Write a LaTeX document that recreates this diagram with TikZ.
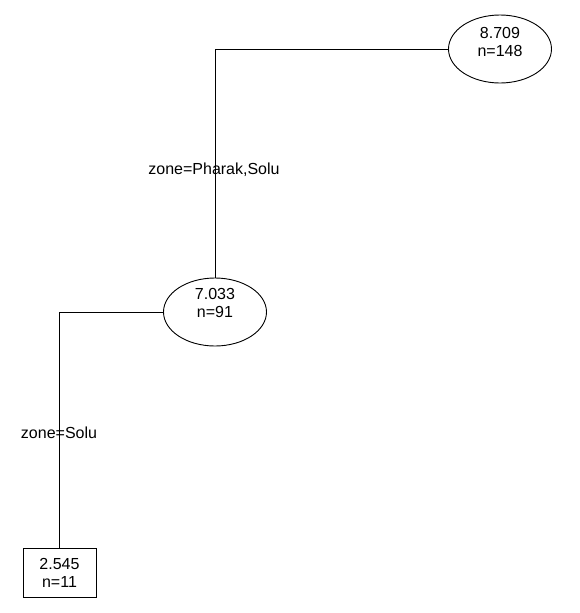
\documentclass[tikz,border=0pt]{standalone}
\usepackage{fontspec}
\setmainfont{Liberation Sans}
\usetikzlibrary{shapes.geometric}
\begin{document}
\begin{tikzpicture}[x=1pt,y=-1pt,line width=0.9pt,
  ell/.style={draw,ellipse,minimum width=103pt,minimum height=68pt,inner sep=0pt},
  leaf/.style={draw,rectangle,minimum width=73pt,minimum height=49pt,inner sep=0pt},
  txt/.style={font=\fontsize{16}{20}\selectfont,align=center},
  lab/.style={font=\fontsize{16}{20}\selectfont,inner sep=0pt}]
\useasboundingbox (0,0) rectangle (579,613);
\node[ell] (root) at (500,49) {};
\node[txt] (roottxt) at (500,42) {8.709\\[-2pt]n=148};
\node[ell] (mid) at (215,312) {};
\node[txt] (midtxt) at (215,303) {7.033\\[-2pt]n=91};
\node[leaf] (leaf) at (59.5,572.5) {};
\node[txt] (leaftxt) at (59.5,572.5) {2.545\\[-2pt]n=11};
\coordinate (c1) at (215,49);
\coordinate (c2) at (59.5,312);
\draw (root.west) -- (c1) -- (mid.north);
\draw (mid.west) -- (c2) -- (leaf.north);
\node[lab] (l1) at (214,170) {zone=Pharak,Solu};
\node[lab] (l2) at (59,433) {zone=Solu};
\end{tikzpicture}
\end{document}
